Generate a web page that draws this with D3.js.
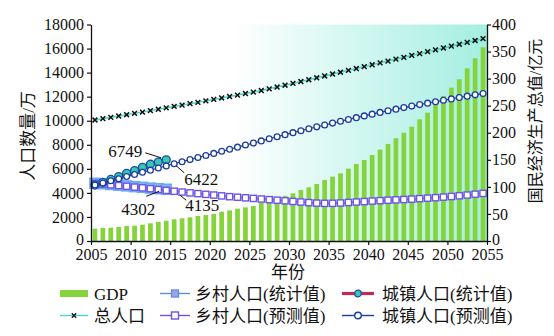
<!DOCTYPE html>
<html>
<head>
<meta charset="utf-8">
<script src="https://cdn.jsdelivr.net/npm/d3@7"></script>
<style>
  body { margin: 0; background: #fff; }
  text { font-family: "Liberation Serif", "Noto Sans CJK SC", serif; }
</style>
</head>
<body>
<svg id="chart" width="554" height="336"></svg>
<script>
// ---- data ----
const years = d3.range(2005, 2055);          // 2005 … 2054, one band per year
const statYears = d3.range(2005, 2015);      // observed years 2005 … 2014

// GDP (亿元, right axis)
const gdp = [22.7, 24, 24.6, 25.9, 27.7, 28.3, 30.1, 32.7, 35.1, 37.5,
             40.1, 41.9, 43.7, 46.2, 48, 49.9, 54.2, 56.5, 59.7, 62.2,
             64.7, 71, 73, 77, 83.5, 88.1, 94.2, 99.2, 105.3, 112.7,
             118.9, 125, 133.7, 142.3, 149.7, 158.9, 169, 179.3, 189.7, 200.2,
             211.3, 224.8, 237.1, 251.3, 268, 283.3, 298.8, 319.1, 337.6, 357.9];

// total population (万)
const totalPop = [10060, 10170, 10280, 10390, 10500, 10610, 10720, 10840, 10950, 11070,
                  11190, 11300, 11420, 11530, 11650, 11770, 11890, 12010, 12130, 12260,
                  12380, 12510, 12650, 12800, 12950, 13100, 13260, 13410, 13570, 13720,
                  13880, 14030, 14190, 14340, 14500, 14650, 14810, 14960, 15120, 15270,
                  15430, 15580, 15740, 15890, 16050, 16200, 16360, 16510, 16670, 16820];

// urban population, projected (万)
const urbanPred = [4650, 4827, 5004, 5181, 5358, 5535, 5712, 5889, 6066, 6243,
                   6422, 6593, 6766, 6939, 7112, 7285, 7458, 7631, 7804, 7977,
                   8150, 8323, 8496, 8669, 8842, 9007, 9170, 9331, 9490, 9647,
                   9802, 9955, 10106, 10255, 10402, 10547, 10690, 10831, 10961, 11089,
                   11215, 11339, 11461, 11581, 11699, 11815, 11929, 12041, 12151, 12259];

// rural population, projected (万)
const ruralPred = [4790, 4730, 4670, 4610, 4550, 4480, 4420, 4350, 4280, 4210,
                   4135, 4070, 4000, 3940, 3880, 3820, 3750, 3685, 3640, 3590,
                   3540, 3490, 3440, 3390, 3340, 3290, 3240, 3190, 3150, 3130,
                   3135, 3160, 3200, 3240, 3280, 3320, 3355, 3390, 3420, 3450,
                   3480, 3520, 3560, 3600, 3650, 3700, 3760, 3820, 3890, 3960];

// observed values (万)
const urbanStat = [4650, 4880, 5120, 5350, 5620, 5850, 6120, 6380, 6560, 6749];
const ruralStat = [4800, 4760, 4700, 4640, 4580, 4520, 4460, 4400, 4350, 4302];

const leftTicks = [0, 2000, 4000, 6000, 8000, 10000, 12000, 14000, 16000, 18000];
const rightTicks = [0, 50, 100, 150, 200, 250, 300, 350, 400];
const xTicks = [2005, 2010, 2015, 2020, 2025, 2030, 2035, 2040, 2045, 2050, 2055];

// ---- layout ----
const M = { left: 91, right: 487, top: 24.5, bottom: 241 };
const svg = d3.select("#chart");

const xBand = d3.scaleBand().domain(years).range([M.left, M.right]);
const cx = yr => xBand(yr) + xBand.bandwidth() / 2;
const xAxisScale = d3.scaleLinear().domain([2005, 2055]).range([M.left, M.right]);
const yL = d3.scaleLinear().domain([0, 18000]).range([M.bottom, M.top]);
const yR = d3.scaleLinear().domain([0, 400]).range([M.bottom, M.top]);

const C = {
  bar: "#86d43c",
  totalLine: "#45d6cc",
  ruralStatLine: "#5b8fe0", ruralStatFill: "#a3a0e8",
  ruralStatPlot: "#6eaaf4", ruralStatPlotFill: "#86b6f6",
  ruralPred: "#6c55e6",
  urbanStatLine: "#c02a55", urbanStatFill: "#36c9b2", urbanStatStroke: "#1d4aa3",
  urbanPred: "#1d3d9c"
};

// background wash of the plotting area
const defs = svg.append("defs");
const grad = defs.append("linearGradient").attr("id", "wash")
  .attr("x1", 0).attr("x2", 1).attr("y1", 0).attr("y2", 0);
grad.append("stop").attr("offset", 0).attr("stop-color", "#ffffff");
grad.append("stop").attr("offset", 0.36).attr("stop-color", "#ffffff");
grad.append("stop").attr("offset", 1).attr("stop-color", "#a4eee1");
svg.append("rect")
  .attr("x", M.left).attr("y", M.top)
  .attr("width", M.right - M.left).attr("height", M.bottom - M.top)
  .attr("fill", "url(#wash)");

// GDP bars
const barW = xBand.bandwidth() * 0.6;
svg.append("g").selectAll("rect").data(years).join("rect")
  .attr("x", (d) => cx(d) - barW / 2)
  .attr("y", (d, i) => yR(gdp[i]))
  .attr("width", barW)
  .attr("height", (d, i) => yR(0) - yR(gdp[i]))
  .attr("fill", C.bar);

const lineL = vals => d3.line().x((d, i) => cx(d)).y((d, i) => yL(vals[i]));
const crossPath = s => `M${-s},${-s}L${s},${s}M${-s},${s}L${s},${-s}`;

// total population
svg.append("path").datum(years).attr("d", lineL(totalPop))
  .attr("fill", "none").attr("stroke", C.totalLine).attr("stroke-width", 1.5);
svg.append("g").selectAll("path").data(years).join("path")
  .attr("transform", (d, i) => `translate(${cx(d)},${yL(totalPop[i])})`)
  .attr("d", crossPath(2.4))
  .attr("stroke", "#111").attr("stroke-width", 1.5).attr("fill", "none");

// rural, observed
svg.append("path").datum(statYears).attr("d", lineL(ruralStat))
  .attr("fill", "none").attr("stroke", C.ruralStatPlot).attr("stroke-width", 3);
svg.append("g").selectAll("rect").data(statYears).join("rect")
  .attr("x", d => cx(d) - 5)
  .attr("y", (d, i) => yL(ruralStat[i]) - 5)
  .attr("width", 10).attr("height", 10)
  .attr("fill", C.ruralStatPlotFill).attr("stroke", C.ruralStatPlot).attr("stroke-width", 1.5);

// rural, projected
svg.append("path").datum(years).attr("d", lineL(ruralPred))
  .attr("fill", "none").attr("stroke", C.ruralPred).attr("stroke-width", 1.3);
svg.append("g").selectAll("rect").data(years).join("rect")
  .attr("x", d => cx(d) - 3.1)
  .attr("y", (d, i) => yL(ruralPred[i]) - 3.1)
  .attr("width", 6.2).attr("height", 6.2)
  .attr("fill", "#fff").attr("stroke", C.ruralPred).attr("stroke-width", 1.4);

// urban, observed
svg.append("g").selectAll("circle").data(statYears).join("circle")
  .attr("cx", d => cx(d))
  .attr("cy", (d, i) => yL(urbanStat[i]))
  .attr("r", 4)
  .attr("fill", C.urbanStatFill).attr("stroke", C.urbanStatStroke).attr("stroke-width", 1.3);

// urban, projected
svg.append("path").datum(years).attr("d", lineL(urbanPred))
  .attr("fill", "none").attr("stroke", C.urbanPred).attr("stroke-width", 1.2);
svg.append("g").selectAll("circle").data(years).join("circle")
  .attr("cx", d => cx(d))
  .attr("cy", (d, i) => yL(urbanPred[i]))
  .attr("r", 2.9)
  .attr("fill", "#fff").attr("stroke", C.urbanPred).attr("stroke-width", 1.3);

// value callouts
const callouts = [
  { year: 2014, value: urbanStat[9], tx: -58, ty: -3, l: [-21, -7, -5, -2] },
  { year: 2015, value: urbanPred[10], tx: 10, ty: 21, l: [2, 2, 10, 9] },
  { year: 2014, value: ruralStat[9], tx: -45, ty: 26, l: [-20, 7, -7, 2] },
  { year: 2015, value: ruralPred[10], tx: 11, ty: 20, l: [6, 4, 12, 9] }
];
const cg = svg.append("g");
callouts.forEach(c => {
  const px = cx(c.year), py = yL(c.value);
  cg.append("line")
    .attr("x1", px + c.l[0]).attr("y1", py + c.l[1])
    .attr("x2", px + c.l[2]).attr("y2", py + c.l[3])
    .attr("stroke", "#111").attr("stroke-width", 1);
  cg.append("text")
    .attr("x", px + c.tx).attr("y", py + c.ty)
    .attr("font-size", 17).attr("fill", "#111")
    .text(String(c.value));
});

// axes
function styleAxis(g) {
  g.select(".domain").attr("stroke", "#111").attr("stroke-width", 1.3);
  g.selectAll(".tick line").attr("stroke", "#111").attr("stroke-width", 1.2);
  g.selectAll(".tick text").attr("font-size", 16).attr("fill", "#111")
    .attr("font-family", "Liberation Serif");
}
svg.append("g").attr("transform", `translate(${M.left},0)`)
  .call(d3.axisLeft(yL).tickValues(leftTicks).tickSize(4).tickPadding(3)
    .tickSizeOuter(0).tickFormat(d3.format("d")))
  .call(styleAxis)
  .call(g => g.selectAll(".tick text").filter(d => d === 0).attr("dy", "0.2em"));
svg.append("g").attr("transform", `translate(${M.right},0)`)
  .call(d3.axisRight(yR).tickValues(rightTicks).tickSize(4).tickPadding(1)
    .tickSizeOuter(0).tickFormat(d3.format("d")))
  .call(styleAxis)
  .call(g => g.selectAll(".tick text").filter(d => d === 0).attr("dy", "0.2em"));
svg.append("g").attr("transform", `translate(0,${M.bottom})`)
  .call(d3.axisBottom(xAxisScale).tickValues(xTicks).tickSize(4).tickPadding(4)
    .tickSizeOuter(0).tickFormat(d3.format("d")))
  .call(styleAxis);

// axis titles
svg.append("text").attr("transform", "translate(28,136) rotate(-90)")
  .attr("text-anchor", "middle").attr("dominant-baseline", "central")
  .attr("font-size", 17).attr("fill", "#111").text("人口数量/万");
svg.append("text").attr("transform", "translate(535,121) rotate(-90)")
  .attr("text-anchor", "middle").attr("dominant-baseline", "central")
  .attr("font-size", 16).attr("fill", "#111").text("国民经济生产总值/亿元");
svg.append("text").attr("x", 288).attr("y", 278)
  .attr("text-anchor", "middle").attr("font-size", 17).attr("fill", "#111").text("年份");

// legend
const legend = [
  { label: "GDP", x: 60, row: 0, kind: "bar" },
  { label: "总人口", x: 60, row: 1, kind: "total" },
  { label: "乡村人口(统计值)", x: 160, row: 0, kind: "ruralStat" },
  { label: "乡村人口(预测值)", x: 160, row: 1, kind: "ruralPred" },
  { label: "城镇人口(统计值)", x: 342, row: 0, kind: "urbanStat" },
  { label: "城镇人口(预测值)", x: 342, row: 1, kind: "urbanPred" }
];
const lg = svg.append("g");
legend.forEach(e => {
  const y = 293.5 + e.row * 22;
  const g = lg.append("g").attr("transform", `translate(${e.x},${y})`);
  const w = 30, mid = w / 2;
  if (e.kind === "bar") {
    g.append("rect").attr("x", 0).attr("y", -3.5).attr("width", 28).attr("height", 7).attr("fill", C.bar);
  } else if (e.kind === "total") {
    g.append("line").attr("x1", 0).attr("x2", 28).attr("stroke", C.totalLine).attr("stroke-width", 1.3);
    g.append("path").attr("transform", "translate(14,0)").attr("d", crossPath(2.2))
      .attr("stroke", "#111").attr("stroke-width", 1.3);
  } else if (e.kind === "ruralStat") {
    g.append("line").attr("x1", 0).attr("x2", w).attr("stroke", C.ruralStatLine).attr("stroke-width", 1.4);
    g.append("rect").attr("x", mid - 3.5).attr("y", -3.5).attr("width", 7).attr("height", 7)
      .attr("fill", C.ruralStatFill).attr("stroke", C.ruralStatLine).attr("stroke-width", 1.3);
  } else if (e.kind === "ruralPred") {
    g.append("line").attr("x1", 0).attr("x2", w).attr("stroke", C.ruralPred).attr("stroke-width", 1.4);
    g.append("rect").attr("x", mid - 3.5).attr("y", -3.5).attr("width", 7).attr("height", 7)
      .attr("fill", "#fff").attr("stroke", C.ruralPred).attr("stroke-width", 1.4);
  } else if (e.kind === "urbanStat") {
    g.append("line").attr("x1", 0).attr("x2", 32).attr("stroke", C.urbanStatLine).attr("stroke-width", 3.2);
    g.append("circle").attr("cx", 16).attr("r", 3.3)
      .attr("fill", C.urbanStatFill).attr("stroke", C.urbanStatStroke).attr("stroke-width", 1.3);
  } else {
    g.append("line").attr("x1", 0).attr("x2", 32).attr("stroke", C.urbanPred).attr("stroke-width", 1.4);
    g.append("circle").attr("cx", 16).attr("r", 3.3)
      .attr("fill", "#fff").attr("stroke", C.urbanPred).attr("stroke-width", 1.4);
  }
  g.append("text").attr("x", e.kind === "bar" || e.kind === "total" ? 34 : (e.x === 160 ? 35 : 40))
    .attr("y", 6).attr("font-size", 17).attr("fill", "#111").text(e.label);
});
</script>
</body>
</html>
